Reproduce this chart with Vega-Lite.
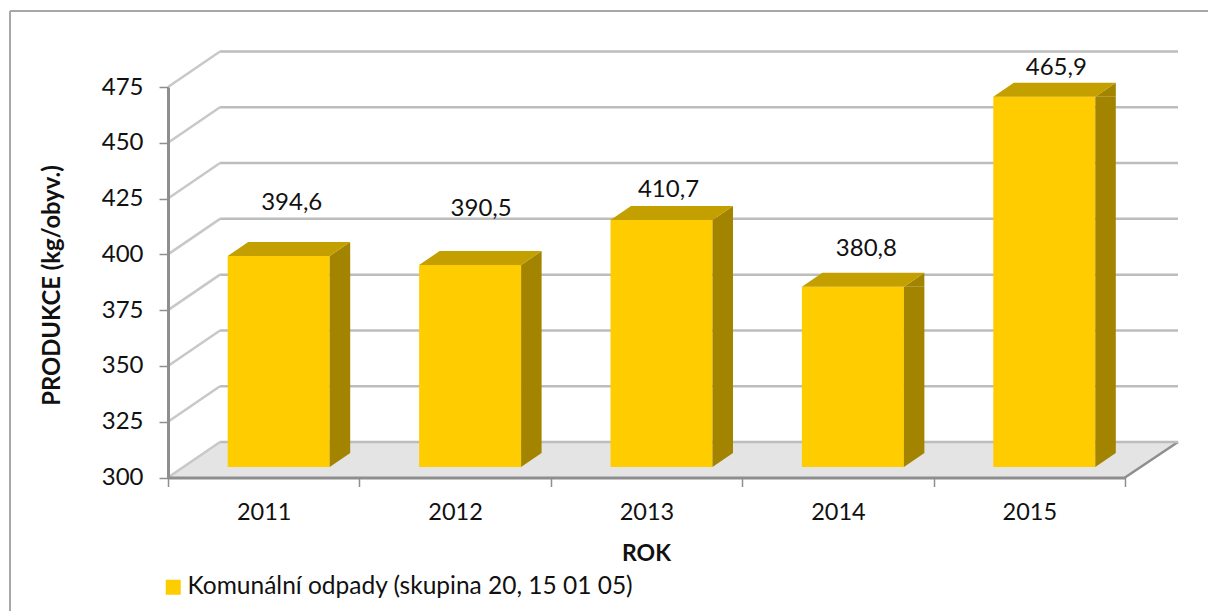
{"$schema":"https://vega.github.io/schema/vega-lite/v6.json","width":957,"height":390.5,"autosize":{"type":"none"},"padding":{"left":168,"top":87,"right":83,"bottom":133.5},"background":"white","view":{"stroke":null},
"config":{"font":"Lato","text":{"font":"Lato"}},
"datasets":{"bars":[{"year":"2011","production":394.6,"label":"394,6","series":"Komunální odpady (skupina 20, 15 01 05)"},{"year":"2012","production":390.5,"label":"390,5","series":"Komunální odpady (skupina 20, 15 01 05)"},{"year":"2013","production":410.7,"label":"410,7","series":"Komunální odpady (skupina 20, 15 01 05)"},{"year":"2014","production":380.8,"label":"380,8","series":"Komunální odpady (skupina 20, 15 01 05)"},{"year":"2015","production":465.9,"label":"465,9","series":"Komunální odpady (skupina 20, 15 01 05)"}],
"ticks":[{"year":"2013","production":300},{"year":"2013","production":325},{"year":"2013","production":350},{"year":"2013","production":375},{"year":"2013","production":400},{"year":"2013","production":425},{"year":"2013","production":450},{"year":"2013","production":475}],
"base":[{"year":"2013","production":300}]},
"encoding":{
"x":{"field":"year","type":"nominal","scale":{"paddingInner":0,"paddingOuter":0},"axis":{"title":"ROK","tickBand":"extent","labelAngle":0,"labelFontSize":23.5,"labelColor":"#111","labelFont":"Lato","labelPadding":14,"tickColor":"#8e8e8e","tickWidth":1.5,"tickSize":9,"domainColor":"#8e8e8e","domainWidth":3,"titleFontSize":23,"titleFont":"Lato","titleFontWeight":"bold","titleColor":"#111","titleX":478,"titleY":76,"titleBaseline":"middle","zindex":1}},
"y":{"field":"production","type":"quantitative","scale":{"domain":[300,475],"nice":false,"zero":false},"axis":{"title":"PRODUKCE (kg/obyv.)","values":[300,325,350,375,400,425,450,475],"grid":false,"labelFontSize":24,"labelColor":"#111","labelFont":"Lato","labelPadding":16,"tickColor":"#8e8e8e","tickWidth":1.5,"tickSize":9,"domainColor":"#8e8e8e","domainWidth":3,"titleFontSize":23.8,"titleFont":"Lato","titleFontWeight":"bold","titleColor":"#111","titleX":-116,"titleY":198,"titleBaseline":"middle","zindex":1}}},
"layer":[
{"data":{"name":"base"},"mark":{"type":"point","shape":"M-636.5,-466.5L1198,-466.5","size":4,"filled":false,"stroke":"#8a8a8a","strokeWidth":1.5,"opacity":1}},
{"data":{"name":"base"},"mark":{"type":"point","shape":"M-636.5,-466.5L-636.5,200","size":4,"filled":false,"stroke":"#a8a8a8","strokeWidth":2,"opacity":1}},
{"data":{"name":"base"},"mark":{"type":"point","shape":"M-478.5,0L-426.5,-35.5L531.5,-35.5L478.5,0Z","size":4,"filled":true,"fill":"#e4e4e4","opacity":1,"strokeWidth":0}},
{"data":{"name":"base"},"mark":{"type":"point","shape":"M478.5,0L531.5,-35.5","size":4,"filled":false,"stroke":"#8e8e8e","strokeWidth":2.5,"opacity":1}},
{"data":{"name":"ticks"},"mark":{"type":"point","shape":"M-426.5,-35.5L531.5,-35.5","size":4,"filled":false,"stroke":"#bdbdbd","strokeWidth":2.5,"opacity":1}},
{"data":{"name":"ticks"},"mark":{"type":"point","shape":"M-478.5,0L-426.5,-35.5","size":4,"filled":false,"stroke":"#c8c8c8","strokeWidth":2.5,"opacity":1}},
{"data":{"name":"bars"},"mark":{"type":"bar","size":102,"xOffset":15,"yOffset":-10.5,"y2Offset":-10.5,"fillOpacity":1},"encoding":{"y2":{"datum":300},"color":{"field":"series","type":"nominal","scale":{"range":["#FFCC00"]},"legend":{"title":null,"orient":"none","legendX":-7,"legendY":488,"symbolType":"square","symbolSize":225,"symbolStrokeWidth":0,"symbolOpacity":1,"labelFontSize":24.5,"labelFont":"Lato","labelColor":"#111","labelOffset":2,"padding":0,"labelLimit":600}}}},
{"data":{"name":"bars"},"mark":{"type":"bar","size":20.5,"xOffset":76.25,"yOffset":-10.5,"y2Offset":-24.5,"fill":"#A38400"},"encoding":{"y2":{"datum":300}}},
{"data":{"name":"bars"},"mark":{"type":"point","shape":"M51,0L71.5,-14L71.5,0Z","size":4,"filled":true,"fill":"#A38400","opacity":1,"strokeWidth":0,"xOffset":15,"yOffset":-10.5}},
{"data":{"name":"bars"},"mark":{"type":"point","shape":"M-51,0L51,0L71.5,-14L-30.5,-14Z","size":4,"filled":true,"fill":"#C49F00","opacity":1,"strokeWidth":0,"xOffset":15,"yOffset":-10.5}},
{"data":{"name":"bars"},"mark":{"type":"point","shape":"M51,-10.5L51,-24.5L71.5,-24.5Z","size":4,"filled":true,"fill":"#A38400","opacity":1,"strokeWidth":0,"xOffset":15},"encoding":{"y":{"datum":300}}},
{"data":{"name":"bars"},"transform":[{"filter":"datum.year=='2011'"}],"mark":{"type":"text","fontSize":24,"font":"Lato","color":"#111","dx":28,"dy":-63.4},"encoding":{"text":{"field":"label"}}},
{"data":{"name":"bars"},"transform":[{"filter":"datum.year=='2012'"}],"mark":{"type":"text","fontSize":24,"font":"Lato","color":"#111","dx":26,"dy":-66.6},"encoding":{"text":{"field":"label"}}},
{"data":{"name":"bars"},"transform":[{"filter":"datum.year=='2013'"}],"mark":{"type":"text","fontSize":24,"font":"Lato","color":"#111","dx":22,"dy":-40.5},"encoding":{"text":{"field":"label"}}},
{"data":{"name":"bars"},"transform":[{"filter":"datum.year=='2014'"}],"mark":{"type":"text","fontSize":24,"font":"Lato","color":"#111","dx":28.5,"dy":-48.2},"encoding":{"text":{"field":"label"}}},
{"data":{"name":"bars"},"transform":[{"filter":"datum.year=='2015'"}],"mark":{"type":"text","fontSize":24,"font":"Lato","color":"#111","dx":27,"dy":-38.9},"encoding":{"text":{"field":"label"}}}
]}
